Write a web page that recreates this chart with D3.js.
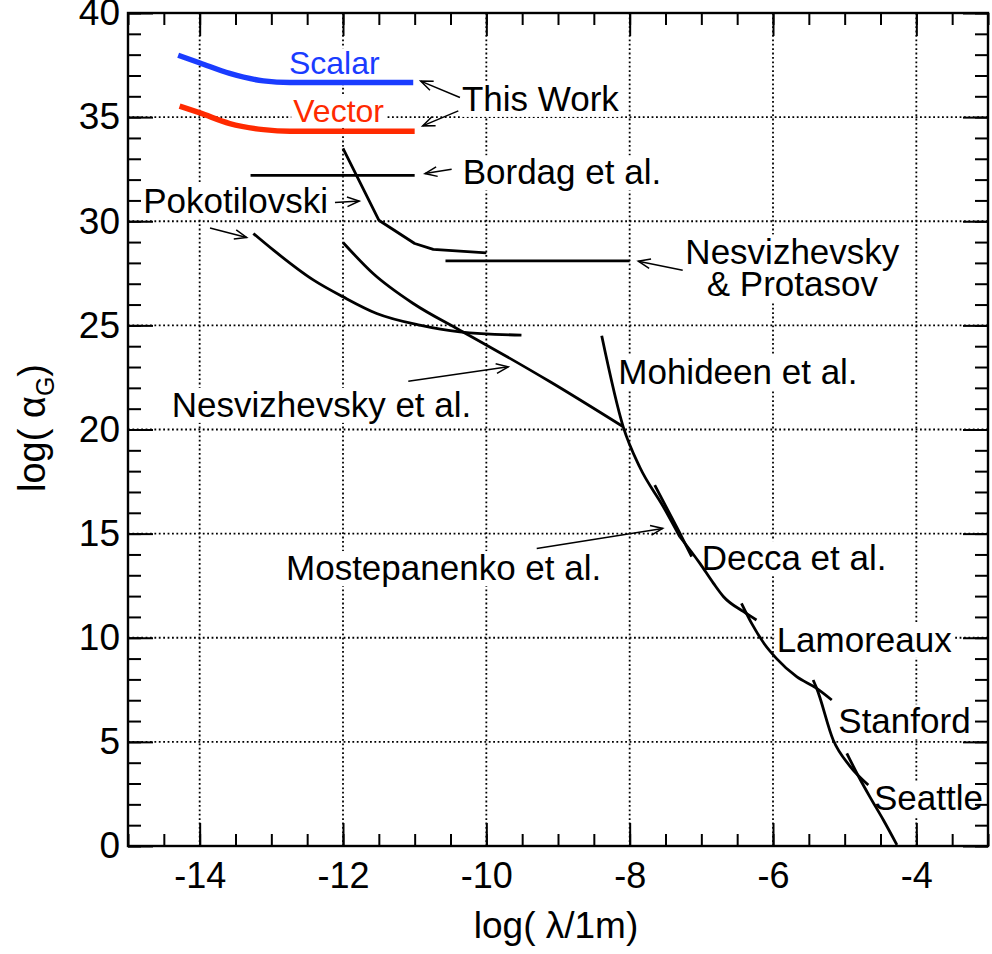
<!DOCTYPE html>
<html><head><meta charset="utf-8">
<script src="https://cdn.jsdelivr.net/npm/d3@7/dist/d3.min.js"></script>
<style>
body{margin:0;background:#fff}
text{font-family:"Liberation Sans",Arial,Helvetica,sans-serif;fill:#000}
</style>
</head><body>
<svg id="chart" width="992" height="954"></svg>
<script>
// ---------- data (x = log(lambda/1m), y = log(alpha_G)) ----------
const xMajorTicks = [-14, -12, -10, -8, -6, -4];
const yMajorTicks = [0, 5, 10, 15, 20, 25, 30, 35, 40];
const xMinorTicks = d3.range(-15, -2.99, 0.5);
const yMinorTicks = d3.range(0, 40.01, 1);

const scalarCurve = [[-14.30,37.97],[-13.995,37.60],[-13.58,37.10],[-13.11,36.74],[-12.74,36.66],[-11.02,36.66]];
const vectorCurve = [[-14.28,35.53],[-13.995,35.20],[-13.58,34.69],[-13.11,34.40],[-12.74,34.32],[-11.00,34.32]];
const bordag = [[-13.29,32.2],[-11.0,32.2]];
const pokotilovski = [[-12.0,33.5],[-11.5,30.05],[-11.0,28.93],[-10.74,28.65],[-10.0,28.48]];
const nesvProtasov = [[-10.57,28.1],[-8.0,28.1]];
const pokotilovski2 = [[-13.25,29.41],[-12.97,28.61],[-12.41,27.17],[-12.0,26.37],[-11.53,25.57],[-10.93,25.01],[-10.37,24.69],[-9.51,24.53]];
const nesvEtAl = [[-12.0,28.98],[-11.58,27.49],[-11.02,26.05],[-10.37,24.77],[-9.995,24.05],[-9.11,22.29],[-8.09,20.13]];
const mohideen = [[-8.39,24.5],[-8.09,20.13],[-7.86,18.2],[-7.53,16.29],[-7.30,14.85]];
const decca = [[-7.30,14.85],[-7.02,13.57],[-6.83,12.61],[-6.69,11.97],[-6.41,11.25],[-6.23,10.85]];
const mostepanenko = [[-7.65,17.33],[-7.31,15.09],[-7.135,13.89]];
const lamoreaux = [[-6.44,11.65],[-6.30,10.70],[-6.12,9.70],[-5.95,9.00],[-5.67,8.13],[-5.39,7.57],[-5.18,7.01]];
const stanford = [[-5.44,7.97],[-5.39,7.57],[-5.16,5.09],[-4.93,3.85],[-4.67,2.93]];
const seattle = [[-4.97,4.45],[-4.80,3.30],[-4.65,2.37],[-4.46,1.25],[-4.27,0.05]];

// annotation texts (lines separated by "|") and their anchor points (data units)
const labelTexts = ["Scalar","Vector","This Work","Bordag et al.","Pokotilovski","Nesvizhevsky|& Protasov",
  "Mohideen et al.","Nesvizhevsky et al.","Mostepanenko et al.","Decca et al.","Lamoreaux","Stanford","Seattle"];
const labelX = [-12.754,-12.694,-10.34,-10.33,-14.787,-5.73,-8.159,-14.39,-12.795,-6.995,-5.949,-5.089,-4.591];
const labelY = [37.06,34.77,35.30,31.77,30.42,27.97,22.18,20.61,12.77,13.25,9.33,5.41,1.73];

// arrows: [fromX, fromY, toX, toY]
const arrows = [
  [-10.368,35.94,-10.916,36.73],
  [-10.391,35.30,-10.889,34.58],
  [-10.484,32.50,-10.856,32.29],
  [-12.112,30.90,-11.773,30.97],
  [-13.856,29.68,-13.344,29.22],
  [-7.26,27.65,-7.88,28.08],
  [-11.089,22.32,-9.694,23.01],
  [-9.297,14.29,-7.539,15.25]
];

// ---------- layout ----------
const L = 128, R = 988, T = 13, B = 846;
const svg = d3.select("#chart");
const x = d3.scaleLinear().domain([-15, -3]).range([L, R]);
const y = d3.scaleLinear().domain([0, 40]).range([B, T]);

// grid
const grid = svg.append("g").attr("stroke","#000").attr("stroke-width",1.8).attr("stroke-dasharray","1.8,2.6");
xMajorTicks.forEach(v => grid.append("line").attr("x1",x(v)).attr("x2",x(v)).attr("y1",T).attr("y2",B));
yMajorTicks.filter(v => v > 0 && v < 40).forEach(v => grid.append("line").attr("x1",L).attr("x2",R).attr("y1",y(v)).attr("y2",y(v)));

// labels with white boxes
const labG = svg.append("g");
labelTexts.forEach((t, i) => {
  const isSV = i < 2;
  const parts = t.split("|");
  const mid = parts.length > 1;
  const g = labG.append("g");
  const txt = g.append("text")
    .attr("x", x(labelX[i])).attr("y", y(labelY[i]))
    .attr("text-anchor", mid ? "middle" : "start")
    .style("font-size", isSV ? "32px" : "35px")
    .style("fill", i === 0 ? "#1a3cff" : (i === 1 ? "#ff2a00" : "#000"));
  parts.forEach((p, k) => txt.append("tspan").attr("x", x(labelX[i])).attr("dy", k === 0 ? 0 : 32).text(p));
  const bb = txt.node().getBBox();
  g.insert("rect", "text").attr("x", bb.x - 2).attr("y", bb.y + 3).attr("width", bb.width + 4).attr("height", bb.height - 4).attr("fill", "#fff");
});

// curves
const lineLin = d3.line().x(d => x(d[0])).y(d => y(d[1]));
const lineSmooth = d3.line().x(d => x(d[0])).y(d => y(d[1])).curve(d3.curveMonotoneX);
const curves = svg.append("g").attr("fill","none");
[[bordag,lineLin],[pokotilovski,lineLin],[nesvProtasov,lineLin],[pokotilovski2,lineSmooth],[nesvEtAl,lineSmooth],
 [mohideen,lineSmooth],[decca,lineSmooth],[mostepanenko,lineLin],[lamoreaux,lineSmooth],[stanford,lineSmooth],[seattle,lineSmooth]]
 .forEach(([d, gen]) => curves.append("path").attr("d", gen(d)).attr("stroke","#000").attr("stroke-width",2.8).attr("stroke-linejoin","round"));
curves.append("path").attr("d", lineSmooth(scalarCurve)).attr("stroke","#1a3cff").attr("stroke-width",5.5);
curves.append("path").attr("d", lineSmooth(vectorCurve)).attr("stroke","#ff2a00").attr("stroke-width",5.5);

// arrows
const arG = svg.append("g").attr("fill","none").attr("stroke","#000").attr("stroke-width",1.5);
arrows.forEach(a => {
  const x1 = x(a[0]), y1 = y(a[1]), x2 = x(a[2]), y2 = y(a[3]);
  const ang = Math.atan2(y2 - y1, x2 - x1);
  const len = 13, spread = 0.38;
  const p1 = [x2 - len*Math.cos(ang - spread), y2 - len*Math.sin(ang - spread)];
  const p2 = [x2 - len*Math.cos(ang + spread), y2 - len*Math.sin(ang + spread)];
  arG.append("line").attr("x1",x1).attr("y1",y1).attr("x2",x2).attr("y2",y2);
  arG.append("path").attr("d",`M${p1[0]},${p1[1]}L${x2},${y2}L${p2[0]},${p2[1]}`);
});

// axes (ticks inward)
const fmt = d => String(d);
function styleAxis(g){ g.select(".domain").remove(); g.selectAll("line").attr("stroke","#000").attr("stroke-width",2); g.selectAll("text").style("font-size","36px").attr("fill","#000").style("font-family","'Liberation Sans',Arial,sans-serif"); }
svg.append("g").attr("transform",`translate(0,${B})`).call(d3.axisBottom(x).tickValues(xMinorTicks).tickSize(-12).tickFormat("")).call(styleAxis);
svg.append("g").attr("transform",`translate(0,${B})`).call(d3.axisBottom(x).tickValues(xMajorTicks).tickSize(-23).tickPadding(16).tickFormat(fmt)).call(styleAxis);
svg.append("g").attr("transform",`translate(0,${T})`).call(d3.axisTop(x).tickValues(xMinorTicks).tickSize(-12).tickFormat("")).call(styleAxis);
svg.append("g").attr("transform",`translate(0,${T})`).call(d3.axisTop(x).tickValues(xMajorTicks).tickSize(-23).tickFormat("")).call(styleAxis);
svg.append("g").attr("transform",`translate(${L},0)`).call(d3.axisLeft(y).tickValues(yMinorTicks).tickSize(-13).tickFormat("")).call(styleAxis);
svg.append("g").attr("transform",`translate(${L},0)`).call(d3.axisLeft(y).tickValues(yMajorTicks).tickSize(-25).tickPadding(8).tickFormat(fmt)).call(styleAxis)
  .selectAll("text").style("font-size","37px");
svg.append("g").attr("transform",`translate(${R},0)`).call(d3.axisRight(y).tickValues(yMinorTicks).tickSize(-13).tickFormat("")).call(styleAxis);
svg.append("g").attr("transform",`translate(${R},0)`).call(d3.axisRight(y).tickValues(yMajorTicks).tickSize(-25).tickFormat("")).call(styleAxis);

// frame
svg.append("rect").attr("x",L).attr("y",T).attr("width",R-L).attr("height",B-T).attr("fill","none").attr("stroke","#000").attr("stroke-width",2.4);

// axis titles
svg.append("text").attr("x",556).attr("y",938).attr("text-anchor","middle").style("font-size","37px").text("log( λ/1m)");
const yt = svg.append("text").attr("transform","translate(45,428) rotate(-90)").attr("text-anchor","middle").style("font-size","38px");
yt.append("tspan").text("log( α");
yt.append("tspan").attr("dy",9).style("font-size","25px").text("G");
yt.append("tspan").attr("dy",-9).text(")");
</script>
</body></html>
